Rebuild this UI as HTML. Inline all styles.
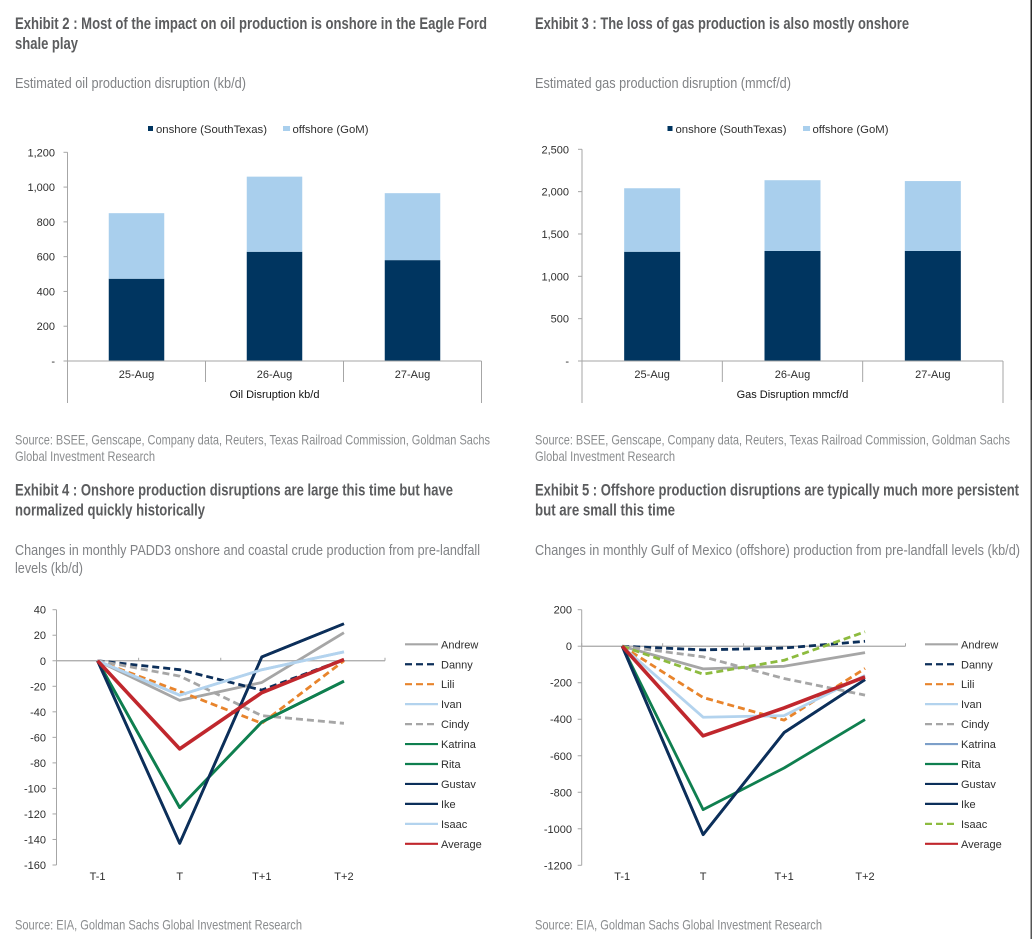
<!DOCTYPE html>
<html lang="en">
<head>
<meta charset="utf-8">
<title>Hurricane production disruption exhibits</title>
<style>
html,body{margin:0;padding:0;background:#fff;width:1032px;height:939px;overflow:hidden}
svg{display:block;position:absolute;left:0;top:0}
.title{font:bold 16.5px "Liberation Sans Narrow","Liberation Sans",sans-serif;fill:#5b5c5e}
.sub{font:14.5px "Liberation Sans Narrow","Liberation Sans",sans-serif;fill:#808285}
.src{font:14px "Liberation Sans Narrow","Liberation Sans",sans-serif;fill:#8a8c8e}
.lab{font:11px "Liberation Sans",sans-serif;fill:#2e2e2e}
</style>
</head>
<body>
<svg id="page" width="1032" height="939" viewBox="0 0 1032 939" xmlns="http://www.w3.org/2000/svg">
  <rect x="0" y="0" width="1032" height="939" fill="#ffffff"/>
  <rect x="1030.5" y="0" width="1.5" height="400" fill="#2a2a2a"/>
  <rect x="1030.5" y="400" width="1.5" height="539" fill="#555555"/>

  <text class="title" x="15" y="29" textLength="472" lengthAdjust="spacingAndGlyphs">Exhibit 2 : Most of the impact on oil production is onshore in the Eagle Ford</text>
  <text class="title" x="15" y="49" textLength="63" lengthAdjust="spacingAndGlyphs">shale play</text>
  <text class="sub" x="15" y="88" textLength="231" lengthAdjust="spacingAndGlyphs">Estimated oil production disruption (kb/d)</text>
  <text class="src" x="15" y="444.5" textLength="475" lengthAdjust="spacingAndGlyphs">Source: BSEE, Genscape, Company data, Reuters, Texas Railroad Commission, Goldman Sachs</text>
  <text class="src" x="15" y="461" textLength="140" lengthAdjust="spacingAndGlyphs">Global Investment Research</text>

  <text class="title" x="535" y="29" textLength="374" lengthAdjust="spacingAndGlyphs">Exhibit 3 : The loss of gas production is also mostly onshore</text>
  <text class="sub" x="535" y="88" textLength="256" lengthAdjust="spacingAndGlyphs">Estimated gas production disruption (mmcf/d)</text>
  <text class="src" x="535" y="444.5" textLength="475" lengthAdjust="spacingAndGlyphs">Source: BSEE, Genscape, Company data, Reuters, Texas Railroad Commission, Goldman Sachs</text>
  <text class="src" x="535" y="461" textLength="140" lengthAdjust="spacingAndGlyphs">Global Investment Research</text>

  <text class="title" x="15" y="495.3" textLength="438" lengthAdjust="spacingAndGlyphs">Exhibit 4 : Onshore production disruptions are large this time but have</text>
  <text class="title" x="15" y="515.7" textLength="190" lengthAdjust="spacingAndGlyphs">normalized quickly historically</text>
  <text class="sub" x="15" y="555" textLength="465" lengthAdjust="spacingAndGlyphs">Changes in monthly PADD3 onshore and coastal crude production from pre-landfall</text>
  <text class="sub" x="15" y="573" textLength="68" lengthAdjust="spacingAndGlyphs">levels (kb/d)</text>
  <text class="src" x="15" y="929.5" textLength="287" lengthAdjust="spacingAndGlyphs">Source: EIA, Goldman Sachs Global Investment Research</text>

  <text class="title" x="535" y="495.3" textLength="484" lengthAdjust="spacingAndGlyphs">Exhibit 5 : Offshore production disruptions are typically much more persistent</text>
  <text class="title" x="535" y="515.7" textLength="140" lengthAdjust="spacingAndGlyphs">but are small this time</text>
  <text class="sub" x="535" y="555" textLength="485" lengthAdjust="spacingAndGlyphs">Changes in monthly Gulf of Mexico (offshore) production from pre-landfall levels (kb/d)</text>
  <text class="src" x="535" y="929.5" textLength="287" lengthAdjust="spacingAndGlyphs">Source: EIA, Goldman Sachs Global Investment Research</text>

  <g>
    <rect x="148" y="126" width="5" height="5" fill="#003560"/>
    <text class="lab" x="156" y="133" textLength="111" lengthAdjust="spacingAndGlyphs">onshore (SouthTexas)</text>
    <rect x="283" y="126" width="7" height="5" fill="#a9cfed"/>
    <text class="lab" x="292.5" y="133" textLength="76" lengthAdjust="spacingAndGlyphs">offshore (GoM)</text>
  </g>
  <g>
    <rect x="667.5" y="126" width="5" height="5" fill="#003560"/>
    <text class="lab" x="675.5" y="133" textLength="111" lengthAdjust="spacingAndGlyphs">onshore (SouthTexas)</text>
    <rect x="803" y="126" width="7" height="5" fill="#a9cfed"/>
    <text class="lab" x="812.5" y="133" textLength="76" lengthAdjust="spacingAndGlyphs">offshore (GoM)</text>
  </g>
  <g id="charts"></g>
</svg>

<script>
// ---- Exhibit 2: oil disruption (kb/d)
var oilDays = ['25-Aug', '26-Aug', '27-Aug'];
var oilOnshore = [473, 628, 580];
var oilOffshore = [377, 432, 385];
var oilTicks = [0, 200, 400, 600, 800, 1000, 1200];
var oilTickLabels = ['-', '200', '400', '600', '800', '1,000', '1,200'];

// ---- Exhibit 3: gas disruption (mmcf/d)
var gasDays = ['25-Aug', '26-Aug', '27-Aug'];
var gasOnshore = [1290, 1300, 1300];
var gasOffshore = [750, 835, 825];
var gasTicks = [0, 500, 1000, 1500, 2000, 2500];
var gasTickLabels = ['-', '500', '1,000', '1,500', '2,000', '2,500'];

// ---- Exhibit 4: onshore hurricanes (kb/d)
var periods = ['T-1', 'T', 'T+1', 'T+2'];
var onshoreTicks = [40, 20, 0, -20, -40, -60, -80, -100, -120, -140, -160];
var onAndrew = [0, -31, -17, 22];
var onDanny = [0, -7, -23, 1];
var onLili = [0, -24, -49, 0];
var onIvan = [0, -27, -7, 7];
var onCindy = [0, -12, -43, -49];
var onKatrina = [0, -115, -48, -16];
var onRita = [0, -115, -48, -16];
var onGustav = [0, -143, 3, 29];
var onIke = [0, -143, 3, 29];
var onIsaac = [0, -27, -7, 7];
var onAverage = [0, -69, -25, 1];

// ---- Exhibit 5: offshore hurricanes (kb/d)
var offshoreTicks = [200, 0, -200, -400, -600, -800, -1000, -1200];
var offAndrew = [0, -124, -110, -35];
var offDanny = [0, -20, -10, 27];
var offLili = [0, -281, -405, -122];
var offIvan = [0, -389, -380, -160];
var offCindy = [0, -58, -177, -268];
var offKatrina = [0, -1032, -473, -183];
var offRita = [0, -895, -667, -402];
var offGustav = [0, -1032, -473, -183];
var offIke = [0, -1032, -473, -183];
var offIsaac = [0, -153, -77, 79];
var offAverage = [0, -491, -338, -168];

var SVG_NS = 'http://www.w3.org/2000/svg';
var chartsRoot = document.getElementById('charts');
var AXIS = '#a6a6a6';

function make(parent, tag, attrs, text) {
  var el = document.createElementNS(SVG_NS, tag);
  for (var k in attrs) { el.setAttribute(k, attrs[k]); }
  if (text !== undefined) { el.textContent = text; }
  parent.appendChild(el);
  return el;
}
function seg(parent, name, x1, y1, x2, y2) {
  var el = make(parent, 'line', {x1: x1, y1: y1, x2: x2, y2: y2, stroke: AXIS, 'stroke-width': 1});
  
  
  return el;
}
function label(parent, name, x, y, anchor, str, fill) {
  var el = make(parent, 'text', {x: x, y: y, 'text-anchor': anchor, 'class': 'lab'}, str);
  if (fill) { el.style.fill = fill; }
  
  
  return el;
}
function linear(d0, d1, r0, r1) {
  return function (v) { return r0 + (v - d0) / (d1 - d0) * (r1 - r0); };
}

function stackedChart(prefix, box, days, onshore, offshore, ticks, tickLabels, axisTitle) {
  var g = make(chartsRoot, 'g', {});
  
  
  var y = linear(box.min, box.max, box.yBottom, box.yTop);
  var band = (box.xRight - box.xLeft) / days.length;
  days.forEach(function (day, i) {
    var left = box.xLeft + band * i + (band - box.barWidth) / 2;
    var base = y(0);
    var topOn = y(onshore[i]);
    var topAll = y(onshore[i] + offshore[i]);
    var on = make(g, 'rect', {x: left, y: topOn, width: box.barWidth, height: base - topOn, fill: '#003560'});
    
    
    var off = make(g, 'rect', {x: left, y: topAll, width: box.barWidth, height: topOn - topAll, fill: '#a9cfed'});
    
    
    label(g, prefix + '-category-label', box.xLeft + band * (i + 0.5), 378, 'middle', day);
  });
  seg(g, prefix + '-y-axis', box.xLeft, box.yTop, box.xLeft, 403);
  seg(g, prefix + '-x-axis', box.xLeft - 4, y(0), box.xRight, y(0));
  seg(g, prefix + '-x-axis-end', box.xRight, y(0), box.xRight, 403);
  for (var s = 1; s < days.length; s++) {
    seg(g, prefix + '-category-separator', box.xLeft + band * s, y(0), box.xLeft + band * s, 382);
  }
  ticks.forEach(function (t, i) {
    seg(g, prefix + '-y-tick', box.xLeft - 4, y(t), box.xLeft, y(t));
    label(g, prefix + '-y-tick-label', box.labelRight, y(t) + 4, 'end', tickLabels[i]);
  });
  label(g, prefix + '-axis-title', (box.xLeft + box.xRight) / 2, 398, 'middle', axisTitle, '#111111');
}

function lineChart(prefix, box, cats, ticks, seriesNames, seriesValues, seriesStyles) {
  var g = make(chartsRoot, 'g', {});
  
  
  var y = linear(box.min, box.max, box.yBottom, box.yTop);
  var band = (box.xRight - box.xLeft) / cats.length;
  var x = function (i) { return box.xLeft + band * (i + 0.5); };

  seg(g, prefix + '-y-axis', box.xLeft, box.yTop, box.xLeft, box.yBottom);
  ticks.forEach(function (t) {
    seg(g, prefix + '-y-tick', box.xLeft - 4, y(t), box.xLeft, y(t));
    label(g, prefix + '-y-tick-label', box.labelRight, y(t) + 4, 'end', String(t));
  });
  var zero = seg(g, prefix + '-zero-line', box.xLeft, y(0), box.xRight, y(0));
  zero.setAttribute('stroke-width', 1.2);
  for (var k = 0; k <= cats.length; k++) {
    seg(g, prefix + '-x-tick', box.xLeft + band * k, y(0) - 3, box.xLeft + band * k, y(0));
  }
  cats.forEach(function (c, i) {
    label(g, prefix + '-x-label', x(i), 880, 'middle', c);
  });
  seriesNames.forEach(function (name, idx) {
    var st = seriesStyles[name];
    var pts = seriesValues[idx].map(function (v, i) { return x(i) + ',' + y(v); }).join(' ');
    var line = make(g, 'polyline', {points: pts, fill: 'none', stroke: st.color, 'stroke-width': st.width,
      'stroke-linejoin': 'round', 'stroke-dasharray': st.dash ? '7 4' : 'none'});
    
    
    var rowY = box.legendTop + box.legendStep * idx;
    var key = make(g, 'line', {x1: box.legendX, y1: rowY, x2: box.legendX + 33, y2: rowY, stroke: st.color,
      'stroke-width': 2.2, 'stroke-dasharray': st.dash ? '7 4' : 'none'});
    
    
    label(g, prefix + '-legend-label-' + name.toLowerCase(), box.legendX + 36, rowY + 4, 'start', name);
  });
}

var hurricaneNames = ['Andrew', 'Danny', 'Lili', 'Ivan', 'Cindy', 'Katrina', 'Rita', 'Gustav', 'Ike', 'Isaac', 'Average'];

stackedChart('oil', {xLeft: 67.5, xRight: 481.5, yTop: 152.3, yBottom: 361, min: 0, max: 1200, barWidth: 55.5, labelRight: 55},
  oilDays, oilOnshore, oilOffshore, oilTicks, oilTickLabels, 'Oil Disruption kb/d');

stackedChart('gas', {xLeft: 582, xRight: 1003, yTop: 149.3, yBottom: 361, min: 0, max: 2500, barWidth: 56, labelRight: 569},
  gasDays, gasOnshore, gasOffshore, gasTicks, gasTickLabels, 'Gas Disruption mmcf/d');

lineChart('onshore', {xLeft: 56.5, xRight: 385, yTop: 609.7, yBottom: 865, min: -160, max: 40, labelRight: 46,
    legendX: 405, legendTop: 644.3, legendStep: 19.95},
  periods, onshoreTicks, hurricaneNames,
  [onAndrew, onDanny, onLili, onIvan, onCindy, onKatrina, onRita, onGustav, onIke, onIsaac, onAverage],
  {Andrew: {color: '#a6a6a6', width: 2.8}, Danny: {color: '#0c2f5a', width: 2.8, dash: true},
   Lili: {color: '#e8842c', width: 2.8, dash: true}, Ivan: {color: '#b3d3ee', width: 2.8},
   Cindy: {color: '#a6a6a6', width: 2.8, dash: true}, Katrina: {color: '#0f7f4f', width: 2.8},
   Rita: {color: '#0f7f4f', width: 2.8}, Gustav: {color: '#0c2f5a', width: 2.8},
   Ike: {color: '#0c2f5a', width: 2.8}, Isaac: {color: '#b3d3ee', width: 2.8},
   Average: {color: '#c0272d', width: 3.6}});

lineChart('offshore', {xLeft: 581.7, xRight: 905.5, yTop: 609.7, yBottom: 865.3, min: -1200, max: 200, labelRight: 572,
    legendX: 925, legendTop: 644.3, legendStep: 19.95},
  periods, offshoreTicks, hurricaneNames,
  [offAndrew, offDanny, offLili, offIvan, offCindy, offKatrina, offRita, offGustav, offIke, offIsaac, offAverage],
  {Andrew: {color: '#a6a6a6', width: 2.8}, Danny: {color: '#0c2f5a', width: 2.8, dash: true},
   Lili: {color: '#e8842c', width: 2.8, dash: true}, Ivan: {color: '#b3d3ee', width: 2.8},
   Cindy: {color: '#a6a6a6', width: 2.8, dash: true}, Katrina: {color: '#7d9fc9', width: 2.8},
   Rita: {color: '#0f7f4f', width: 2.8}, Gustav: {color: '#0c2f5a', width: 2.8},
   Ike: {color: '#0c2f5a', width: 2.8}, Isaac: {color: '#8dbb3f', width: 2.8, dash: true},
   Average: {color: '#c0272d', width: 3.6}});
</script>
</body>
</html>
